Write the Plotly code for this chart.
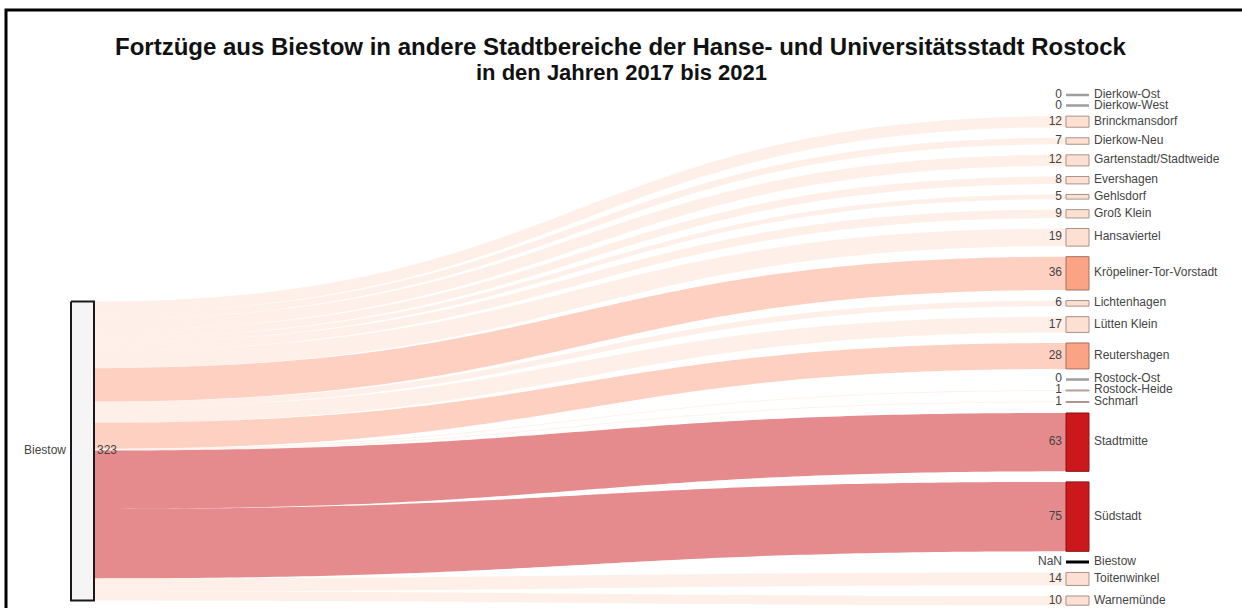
import numpy as np
import plotly.graph_objects as go

# ---------------- data ----------------
source_name = "Biestow"
targets = ["Dierkow-Ost", "Dierkow-West", "Brinckmansdorf", "Dierkow-Neu",
           "Gartenstadt/Stadtweide", "Evershagen", "Gehlsdorf", "Groß Klein",
           "Hansaviertel", "Kröpeliner-Tor-Vorstadt", "Lichtenhagen", "Lütten Klein",
           "Reutershagen", "Rostock-Ost", "Rostock-Heide", "Schmarl", "Stadtmitte",
           "Südstadt", "Biestow", "Toitenwinkel", "Warnemünde"]
moves = [0, 0, 12, 7, 12, 8, 5, 9, 19, 36, 6, 17, 28, 0, 1, 1, 63, 75, None, 14, 10]
title_lines = ["Fortzüge aus Biestow in andere Stadtbereiche der Hanse- und Universitätsstadt Rostock",
               "in den Jahren 2017 bis 2021"]

# ---------------- layout parameters ----------------
W, H = 1242, 608
K = 0.926            # px per person
PAD = 11.4           # gap between target nodes (persons)
TGT_Y0_PX = 95       # pixel position of the first target node
SRC_TOP = 223        # source node top (persons, relative to first target)
XS0, XS1 = 71, 94    # source node x extent
XT0, XT1 = 1066, 1089

def node_style(v):
    if v is None:
        return dict(fill="#000000", line="#000000", lw=3)
    if v == 0:
        return dict(fill="#dddddd", line="#9e9e9e", lw=2.5)
    if v >= 50:
        return dict(fill="#cb181d", line="#8a1515", lw=1)
    if v >= 25:
        return dict(fill="#fca285", line="#a8705f", lw=1)
    return dict(fill="#fee0d2", line="#a8928a", lw=1)

def link_color(v):
    c = node_style(v)["fill"].lstrip("#")
    r, g, b = int(c[0:2], 16), int(c[2:4], 16), int(c[4:6], 16)
    return f"rgba({r},{g},{b},0.5)"

vals = [0 if v is None else v for v in moves]
total = sum(vals)

# target positions
tops, bots = [], []
y = 0.0
for v in vals:
    tops.append(y)
    bots.append(y + v)
    y += v + PAD

fig = go.Figure()

# links
t = np.linspace(0, 1, 120)
xm = (XS1 + XT0) / 2
sy = SRC_TOP
for i, v in enumerate(vals):
    if v <= 0:
        continue
    y0 = sy + v / 2
    y1 = tops[i] + v / 2
    sy += v
    bx = (1 - t) ** 3 * XS1 + 3 * (1 - t) ** 2 * t * xm + 3 * (1 - t) * t ** 2 * xm + t ** 3 * XT0
    by = (1 - t) ** 3 * y0 + 3 * (1 - t) ** 2 * t * y0 + 3 * (1 - t) * t ** 2 * y1 + t ** 3 * y1
    fig.add_trace(go.Scatter(x=bx, y=by, mode="lines",
                             line=dict(color=link_color(moves[i]), width=v * K, simplify=False),
                             hoverinfo="skip", showlegend=False))

# source node
fig.add_trace(go.Scatter(x=[XS0, XS1, XS1, XS0, XS0],
                         y=[SRC_TOP, SRC_TOP, SRC_TOP + total, SRC_TOP + total, SRC_TOP],
                         mode="lines", fill="toself", fillcolor="#f5f5f5",
                         line=dict(color="#1a1a1a", width=2), hoverinfo="skip", showlegend=False))

# target nodes
for i, v in enumerate(moves):
    st = node_style(v)
    fig.add_trace(go.Scatter(x=[XT0, XT1, XT1, XT0, XT0],
                             y=[tops[i], tops[i], bots[i], bots[i], tops[i]],
                             mode="lines", fill="toself", fillcolor=st["fill"],
                             line=dict(color=st["line"], width=st["lw"]),
                             hoverinfo="skip", showlegend=False))

centers = [(a + b) / 2 for a, b in zip(tops, bots)]
font = dict(family="Liberation Sans, Arial, sans-serif", size=12, color="#444444")

fig.add_trace(go.Scatter(x=[XT0 - 4] * len(targets), y=centers, mode="text",
                         text=["NaN" if v is None else str(v) for v in moves],
                         textposition="middle left", textfont=font,
                         hoverinfo="skip", showlegend=False))
fig.add_trace(go.Scatter(x=[XT1 + 5] * len(targets), y=centers, mode="text",
                         text=targets, textposition="middle right", textfont=font,
                         hoverinfo="skip", showlegend=False))
src_mid = SRC_TOP + total / 2
fig.add_trace(go.Scatter(x=[XS0 - 5], y=[src_mid], mode="text", text=[source_name],
                         textposition="middle left", textfont=font,
                         hoverinfo="skip", showlegend=False))
fig.add_trace(go.Scatter(x=[XS1 + 3], y=[src_mid], mode="text", text=[str(total)],
                         textposition="middle right", textfont=font,
                         hoverinfo="skip", showlegend=False))

y_top = -TGT_Y0_PX / K
y_bot = (H - TGT_Y0_PX) / K

title_font = dict(family="Liberation Sans, Arial, sans-serif", color="#111111")
fig.update_layout(
    width=W, height=H,
    margin=dict(l=0, r=0, t=0, b=0),
    paper_bgcolor="white", plot_bgcolor="white",
    xaxis=dict(range=[0, W], visible=False, fixedrange=True),
    yaxis=dict(range=[y_bot, y_top], visible=False, fixedrange=True),
    annotations=[
        dict(text="<b>" + title_lines[0] + "</b>", xref="paper", yref="paper",
             x=0.5, y=1 - 46 / H, xanchor="center", yanchor="middle", showarrow=False,
             font=dict(size=24, **title_font)),
        dict(text="<b>" + title_lines[1] + "</b>", xref="paper", yref="paper",
             x=0.5, y=1 - 72 / H, xanchor="center", yanchor="middle", showarrow=False,
             font=dict(size=22, **title_font)),
    ],
    shapes=[dict(type="rect", xref="paper", yref="paper",
                 x0=6 / W, x1=1.05, y0=-0.05, y1=1 - 10 / H,
                 line=dict(color="black", width=3), fillcolor="rgba(0,0,0,0)")],
)

fig.write_html("out.html", config={"displayModeBar": False},
               post_script="document.body.style.margin='0';")
